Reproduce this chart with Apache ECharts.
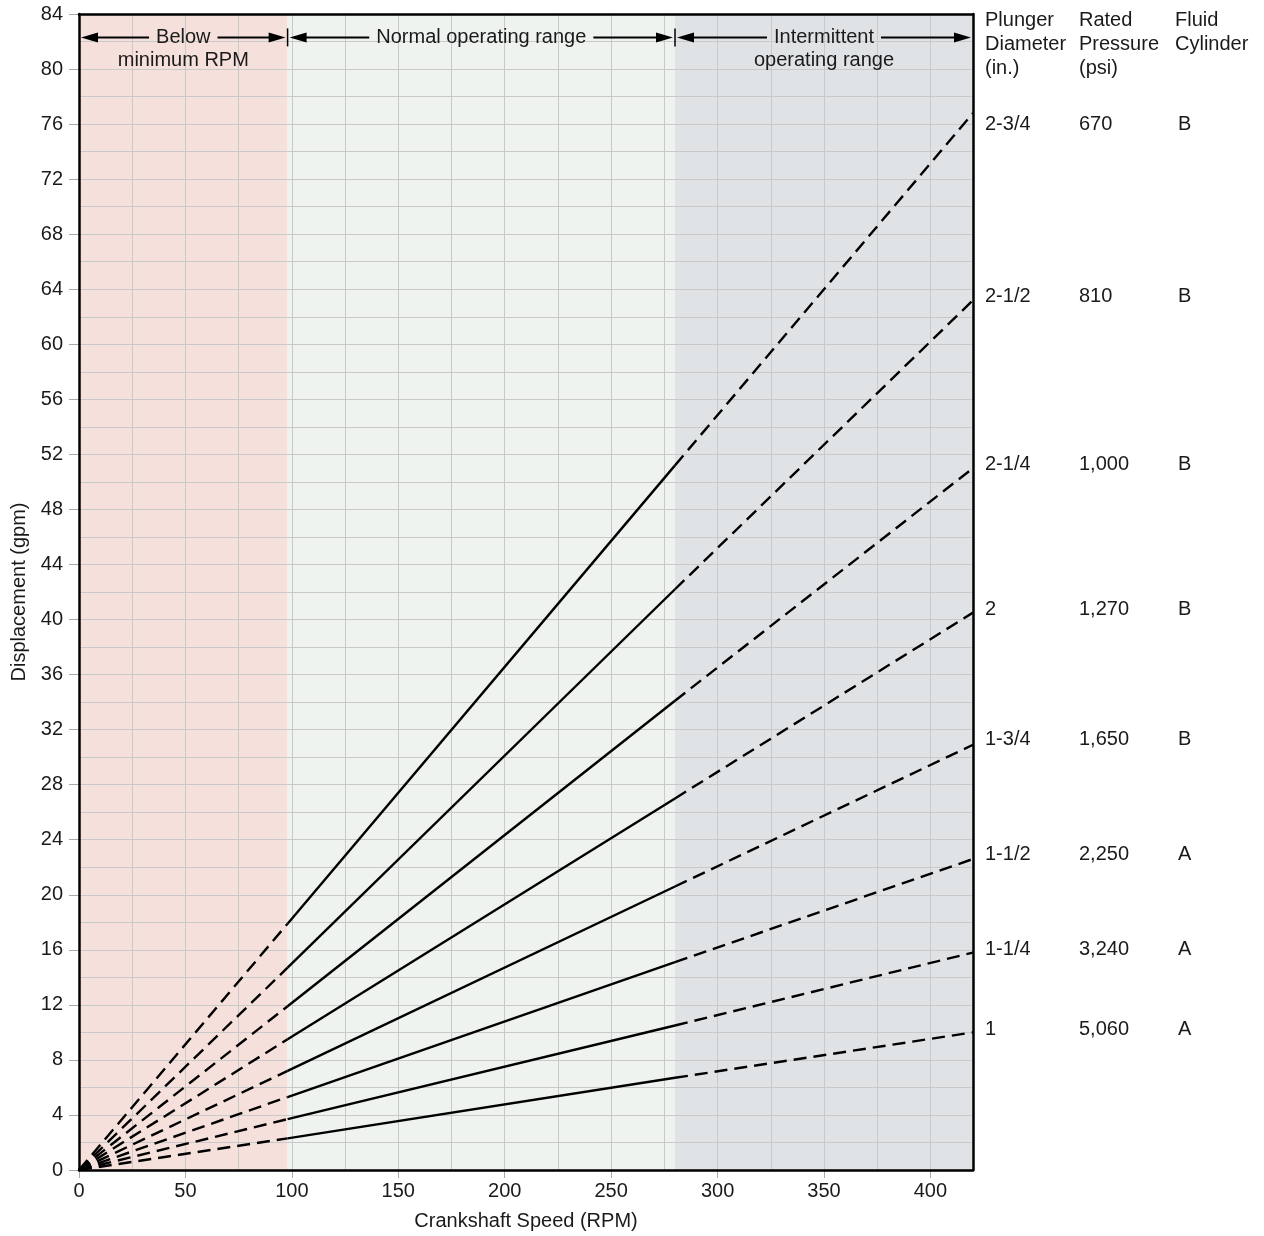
<!DOCTYPE html>
<html><head><meta charset="utf-8">
<script src="https://cdn.jsdelivr.net/npm/echarts@6/dist/echarts.min.js"></script>
<style>html,body{margin:0;padding:0;background:#fff}#c{width:1264px;height:1236px}</style>
</head><body><div id="c"></div>
<script>
// ---- data ----
const plungers = ['2-3/4','2-1/2','2-1/4','2','1-3/4','1-1/2','1-1/4','1'];
const pressures = ['670','810','1,000','1,270','1,650','2,250','3,240','5,060'];
const cylinders = ['B','B','B','B','B','A','A','A'];
const rpmMinimum = 98;
const rpmNormalMax = 280;
const rpmMax = 420;
const gpmAtMinimum = [17.9,14.7,11.9,9.5,7.2,5.3,3.7,2.3];
const gpmAtNormalMax = [51.2,42.2,34.1,27.0,20.6,15.1,10.5,6.7];
const gpmAtMax = [76.8,63.2,51.0,40.5,30.9,22.6,15.8,10.0];
const labelGpm = [76.0,63.5,51.3,40.7,31.3,22.9,16.0,10.2];
const xTickValues = [0,50,100,150,200,250,300,350,400];
const zoneColors = ['#f5e0dc','#eff3f0','#e0e3e5'];
const headerPlunger = ['Plunger','Diameter','(in.)'];
const headerPressure = ['Rated','Pressure','(psi)'];
const headerCylinder = ['Fluid','Cylinder'];

const FONT = "'Liberation Sans', Arial, Helvetica, sans-serif";
const FS = 20;
const TXT = '#1a1a1a';
const chart = echarts.init(document.getElementById('c'));
const GRID = '#c9c9c9';

const series = [{
  type:'line', data:[], z:0, silent:true,
  markArea:{silent:true, data:[
    [{xAxis:0, itemStyle:{color:zoneColors[0]}},{xAxis:rpmMinimum}],
    [{xAxis:rpmMinimum, itemStyle:{color:zoneColors[1]}},{xAxis:rpmNormalMax}],
    [{xAxis:rpmNormalMax, itemStyle:{color:zoneColors[2]}},{xAxis:rpmMax}]
  ]}
}];
const dashed = {color:'#000', width:2.4, type:[13,7]};
const solid = {color:'#000', width:2.4, type:'solid'};
plungers.forEach((p,i)=>{
  series.push({type:'line', name:p, z:10, symbol:'none', silent:true, lineStyle:dashed,
    data:[[0,0],[rpmMinimum,gpmAtMinimum[i]]]});
  series.push({type:'line', name:p, z:10, symbol:'none', silent:true, lineStyle:solid,
    data:[[rpmMinimum,gpmAtMinimum[i]],[rpmNormalMax,gpmAtNormalMax[i]]]});
  series.push({type:'line', name:p, z:10, symbol:'none', silent:true, lineStyle:dashed,
    data:[[rpmNormalMax,gpmAtNormalMax[i]],[rpmMax,gpmAtMax[i]]]});
});

const labelStyle = {color:TXT, fontSize:FS, fontFamily:FONT};
const frameLine = {show:true, onZero:false, lineStyle:{color:'#000', width:2.5}};
const noLine = {show:false, onZero:false};
const frameAxis = (pos) => ({type:'value', min:0, max:(pos==='top'||pos==='bottom')? rpmMax:84, position:pos, z:12,
  axisLine:frameLine, axisTick:{show:false}, axisLabel:{show:false}, splitLine:{show:false}});
chart.setOption({
  animation:false,
  grid:{left:79, right:291, top:14, bottom:65},
  xAxis:[
    {type:'value', min:0, max:rpmMax, interval:25, position:'bottom', z:5,
     axisLine:noLine, axisTick:{show:false}, axisLabel:{show:false},
     splitLine:{show:true, lineStyle:{color:GRID, width:1}}},
    {type:'value', min:0, max:rpmMax, interval:50, position:'bottom', z:5,
     name:'Crankshaft Speed (RPM)', nameLocation:'middle', nameGap:41,
     nameTextStyle:{color:TXT, fontSize:FS, fontFamily:FONT},
     axisLine:noLine,
     axisTick:{show:true, length:8, customValues:xTickValues, lineStyle:{color:'#aaa'}},
     axisLabel:Object.assign({margin:11, customValues:xTickValues, formatter:v=> v%50===0? String(v):''}, labelStyle),
     splitLine:{show:false}},
    frameAxis('top'),
    frameAxis('bottom')
  ],
  yAxis:[
    {type:'value', min:0, max:84, interval:2, position:'left', z:5,
     axisLine:noLine, axisTick:{show:false}, axisLabel:{show:false},
     splitLine:{show:true, lineStyle:{color:GRID, width:1}}},
    {type:'value', min:0, max:84, interval:4, position:'left', z:5,
     name:'Displacement (gpm)', nameLocation:'middle', nameGap:48,
     nameTextStyle:{color:TXT, fontSize:FS, fontFamily:FONT},
     axisLine:noLine,
     axisTick:{show:true, length:10, lineStyle:{color:'#aaa'}},
     axisLabel:Object.assign({margin:16}, labelStyle),
     splitLine:{show:false}},
    frameAxis('left'),
    frameAxis('right')
  ],
  series: series
});

// ---- annotations ----
const ctx = document.createElement('canvas').getContext('2d');
ctx.font = FS + "px " + FONT;
const tw = s => ctx.measureText(s).width;
const px = (x,y) => chart.convertToPixel({xAxisIndex:0, yAxisIndex:0},[x,y]);
const g = [];
const txtStyle = (s, align) => ({text:s, fill:TXT, font:FS+'px '+FONT, textAlign:align||'center', textVerticalAlign:'middle'});
function arrowHead(x,y,dir){
  const L=17, H=5;
  g.push({type:'polygon', z:20, shape:{points:[[x,y],[x-dir*L,y-H],[x-dir*L,y+H]]}, style:{fill:'#000'}});
}
function rangeArrow(x0,x1,line1,line2){
  const a = px(x0,82.3), b = px(x1,82.3);
  const y = a[1];
  const xl = a[0]+2, xr = b[0]-2;
  const cx = (a[0]+b[0])/2;
  const w = tw(line1);
  g.push({type:'line', z:20, shape:{x1:xl+10, y1:y, x2:cx-w/2-7, y2:y}, style:{stroke:'#000', lineWidth:2}});
  g.push({type:'line', z:20, shape:{x1:cx+w/2+7, y1:y, x2:xr-10, y2:y}, style:{stroke:'#000', lineWidth:2}});
  arrowHead(xl,y,-1); arrowHead(xr,y,1);
  g.push({type:'text', z:20, x:cx, y:y, style:txtStyle(line1)});
  if(line2){ const p2 = px(x0,80.8); g.push({type:'text', z:20, x:cx, y:p2[1]+2, style:txtStyle(line2)}); }
}
rangeArrow(0, rpmMinimum, 'Below', 'minimum RPM');
rangeArrow(rpmMinimum, rpmNormalMax, 'Normal operating range', null);
rangeArrow(rpmNormalMax, rpmMax, 'Intermittent', 'operating range');
[rpmMinimum, rpmNormalMax].forEach(x=>{
  const p = px(x,82.3);
  g.push({type:'line', z:20, shape:{x1:p[0], y1:p[1]-9, x2:p[0], y2:p[1]+9}, style:{stroke:'#000', lineWidth:1.5}});
});
// right-hand table
const right = px(rpmMax,0)[0];
const colX = [right+12, right+106, right+202];
const colXVal = [right+12, right+106, right+205];
const headerTop = 20;
headerPlunger.forEach((s,k)=> g.push({type:'text', x:colX[0], y:headerTop+k*24, style:txtStyle(s,'left')}));
headerPressure.forEach((s,k)=> g.push({type:'text', x:colX[1], y:headerTop+k*24, style:txtStyle(s,'left')}));
headerCylinder.forEach((s,k)=> g.push({type:'text', x:colX[2], y:headerTop+k*24, style:txtStyle(s,'left')}));
plungers.forEach((p,i)=>{
  const y = px(rpmMax, labelGpm[i])[1];
  g.push({type:'text', x:colXVal[0], y:y, style:txtStyle(p,'left')});
  g.push({type:'text', x:colXVal[1], y:y, style:txtStyle(pressures[i],'left')});
  g.push({type:'text', x:colXVal[2], y:y, style:txtStyle(cylinders[i],'left')});
});
chart.setOption({graphic:g});
</script>
</body></html>
